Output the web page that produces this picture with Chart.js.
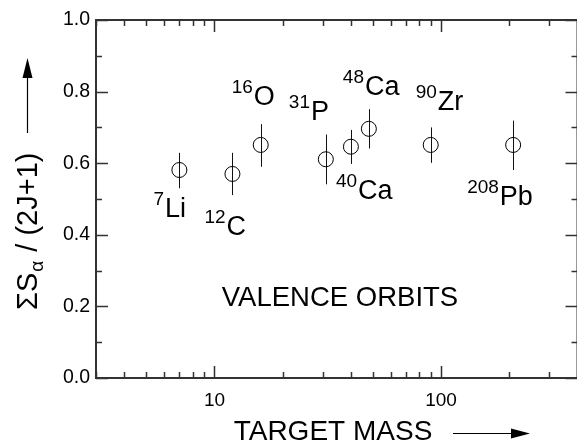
<!DOCTYPE html>
<html>
<head>
<meta charset="utf-8">
<script src="https://cdn.jsdelivr.net/npm/chart.js@4"></script>
<style>
  html, body { margin: 0; padding: 0; background: #fff; overflow: hidden; }
  #wrap { width: 586px; height: 443px; }
</style>
</head>
<body>
<div id="wrap"><canvas id="chart" width="586" height="443"></canvas></div>
<script>
// nuclei and their data (target mass, spectroscopic sum, error bar ends)
const nuclei  = ['7Li', '12C', '16O', '31P', '40Ca', '48Ca', '90Zr', '208Pb'];
const massNo  = ['7', '12', '16', '31', '40', '48', '90', '208'];
const symbols = ['Li', 'C', 'O', 'P', 'Ca', 'Ca', 'Zr', 'Pb'];
const masses  = [7, 12, 16, 31, 40, 48, 90, 208];
const sums    = [0.581, 0.570, 0.651, 0.611, 0.646, 0.696, 0.651, 0.651];
const errLow  = [0.530, 0.511, 0.590, 0.541, 0.598, 0.641, 0.601, 0.581];
const errHigh = [0.629, 0.629, 0.709, 0.680, 0.693, 0.751, 0.700, 0.719];

const xTickLabels = [10, 100];
const yTickValues = [0, 0.2, 0.4, 0.6, 0.8, 1.0];

// where each name sits relative to its point (px: left edge, baseline)
const labelOffsets = [[-26, 47], [-28, 61], [-29, -40], [-37, -39],
                      [-15, 52], [-26, -34], [-15, -35], [-46, 60]];

const FONT = '"Liberation Sans", Arial, Helvetica, sans-serif';
const INK = '#111';

const points = masses.map((m, i) => ({ x: m, y: sums[i] }));

// inward ticks, frame, error bars, labels and titles
const decor = {
  id: 'decor',
  beforeDatasetsDraw(chart) {
    const { ctx } = chart;
    const xs = chart.scales.x, ys = chart.scales.y;
    ctx.save();
    ctx.strokeStyle = INK;
    ctx.lineWidth = 1;
    masses.forEach((m, i) => {
      const px = Math.round(xs.getPixelForValue(m)) + 0.5;
      ctx.beginPath();
      ctx.moveTo(px, ys.getPixelForValue(errLow[i]));
      ctx.lineTo(px, ys.getPixelForValue(errHigh[i]));
      ctx.stroke();
    });
    ctx.restore();
  },
  afterDatasetsDraw(chart) {
    const { ctx, chartArea: a } = chart;
    const xs = chart.scales.x, ys = chart.scales.y;
    ctx.save();

    // frame
    ctx.strokeStyle = '#333';
    ctx.lineWidth = 2;
    ctx.strokeRect(a.left, a.top, a.right - a.left, a.bottom - a.top);

    // y ticks (major 0.2, minor 0.1) on both sides
    ctx.lineWidth = 1.5;
    for (let k = 0; k <= 10; k++) {
      const v = k / 10;
      const len = k % 2 === 0 ? 12 : 6;
      const py = Math.round(ys.getPixelForValue(v)) + 0.5;
      ctx.beginPath();
      ctx.moveTo(a.left, py); ctx.lineTo(a.left + len, py);
      ctx.moveTo(a.right, py); ctx.lineTo(a.right - len, py);
      ctx.stroke();
    }
    // x ticks on log scale, bottom and top
    const logTicks = [];
    [1, 10, 100].forEach(d => { for (let j = 1; j <= 9; j++) logTicks.push(j * d); });
    logTicks.forEach(v => {
      if (v < xs.min || v > xs.max) return;
      const major = v === 10 || v === 100;
      const len = major ? 12 : 6;
      const px = Math.round(xs.getPixelForValue(v)) + 0.5;
      ctx.beginPath();
      ctx.moveTo(px, a.bottom); ctx.lineTo(px, a.bottom - len);
      ctx.moveTo(px, a.top); ctx.lineTo(px, a.top + len);
      ctx.stroke();
    });

    // nucleus labels with mass-number superscripts
    ctx.fillStyle = '#000';
    ctx.textBaseline = 'alphabetic';
    ctx.textAlign = 'left';
    masses.forEach((m, i) => {
      const px = xs.getPixelForValue(m) + labelOffsets[i][0];
      const py = ys.getPixelForValue(sums[i]) + labelOffsets[i][1];
      ctx.font = '19px ' + FONT;
      ctx.fillText(massNo[i], px, py - 12);
      const w = ctx.measureText(massNo[i]).width;
      ctx.font = '27px ' + FONT;
      ctx.fillText(symbols[i], px + w + 1, py);
    });

    // inner caption
    ctx.font = '27.5px ' + FONT;
    ctx.textAlign = 'center';
    ctx.fillText('VALENCE ORBITS', 340, 306);

    // x title + arrow
    ctx.font = '28px ' + FONT;
    ctx.fillText('TARGET MASS', 333, 440);
    ctx.lineWidth = 1.2;
    ctx.strokeStyle = '#000';
    ctx.beginPath();
    ctx.moveTo(453, 433.5); ctx.lineTo(515, 433.5);
    ctx.stroke();
    ctx.beginPath();
    ctx.moveTo(530, 433.5); ctx.lineTo(511, 428.5); ctx.lineTo(511, 438.5);
    ctx.closePath(); ctx.fill();

    // y title + arrow
    ctx.save();
    ctx.translate(37, 310);
    ctx.rotate(-Math.PI / 2);
    ctx.textAlign = 'left';
    ctx.font = '29px ' + FONT;
    let x = 0;
    ctx.fillText('\u03A3S', x, 0);
    x += ctx.measureText('\u03A3S').width;
    ctx.font = '19px ' + FONT;
    ctx.fillText('\u03B1', x + 1, 6);
    x += ctx.measureText('\u03B1').width + 2;
    ctx.font = '29px ' + FONT;
    ctx.fillText(' / (2J+1)', x, 0);
    ctx.restore();

    ctx.beginPath();
    ctx.moveTo(27.5, 133); ctx.lineTo(27.5, 75);
    ctx.stroke();
    ctx.beginPath();
    ctx.moveTo(27.5, 58); ctx.lineTo(22.5, 78); ctx.lineTo(32.5, 78);
    ctx.closePath(); ctx.fill();

    ctx.restore();
  }
};

const data = {
  datasets: [{
    label: 'valence orbits',
    data: points,
    pointStyle: 'circle',
    pointRadius: 7.5,
    pointBackgroundColor: 'rgba(0,0,0,0)',
    pointBorderColor: '#000',
    pointBorderWidth: 1,
    showLine: false
  }]
};

const config = {
  type: 'scatter',
  data,
  options: {
    responsive: false,
    animation: false,
    layout: { padding: { top: 20, right: 0, left: 0, bottom: 0 } },
    plugins: {
      legend: { display: false },
      tooltip: { enabled: false }
    },
    scales: {
      x: {
        type: 'logarithmic',
        min: 3,
        max: 400,
        border: { display: false },
        grid: { display: false, drawTicks: false },
        afterBuildTicks: (s) => { s.ticks = xTickLabels.map(v => ({ value: v })); },
        afterFit: (s) => { s.height = 65; },
        ticks: {
          padding: 11,
          color: '#000',
          font: { family: FONT, size: 19 },
          callback: (v) => String(v)
        }
      },
      y: {
        min: 0,
        max: 1,
        border: { display: false },
        grid: { display: false, drawTicks: false },
        afterBuildTicks: (s) => { s.ticks = yTickValues.map(v => ({ value: v })); },
        afterFit: (s) => { s.width = 96; },
        ticks: {
          padding: 6,
          color: '#000',
          font: { family: FONT, size: 19.5 },
          callback: (v) => Number(v).toFixed(1)
        }
      }
    }
  },
  plugins: [decor]
};

const ctx = document.getElementById('chart').getContext('2d');
const myChart = new Chart(ctx, config);
</script>
</body>
</html>
